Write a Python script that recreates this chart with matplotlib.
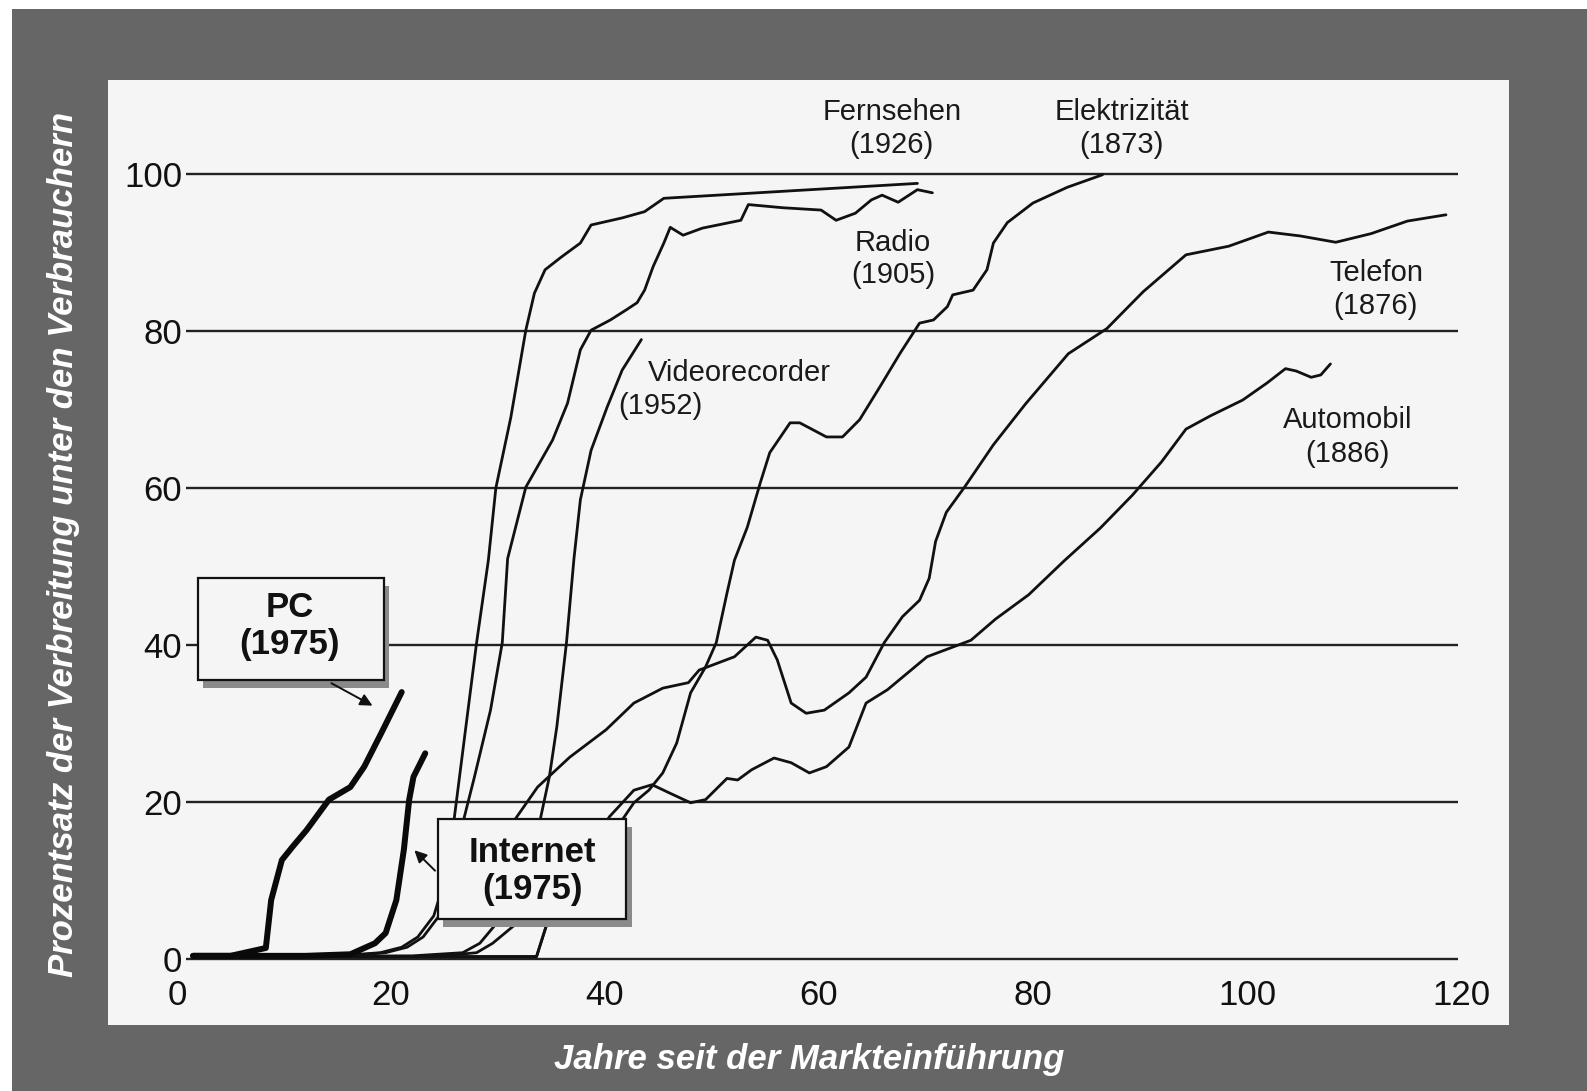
import matplotlib.pyplot as plt
from matplotlib.patches import Rectangle

plt.rcParams['font.family'] = ['Liberation Sans', 'DejaVu Sans']

# Daten (Jahre seit Markteinführung, Prozent der Verbraucher)
pc_x = [1.5, 5, 8.3, 8.8, 9.8, 10.8, 12.1, 14.2, 16.2, 17.5, 19.1, 21.0]
pc_y = [0.4, 0.4, 1.4, 7.5, 12.6, 14.3, 16.4, 20.3, 21.9, 24.5, 28.8, 34.0]

internet_x = [1.5, 12, 16.2, 18.5, 19.5, 20.5, 21.2, 21.7, 22.1, 23.2]
internet_y = [0.4, 0.4, 0.6, 2.0, 3.3, 7.5, 13.9, 20.3, 23.2, 26.2]

tv_x = [1.5, 15, 19, 21, 22.5, 24, 25, 25.9, 27.0, 28.0, 29.1, 29.8, 31.2, 32.6,
        33.4, 34.4, 35.9, 37.7, 38.7, 41.6, 43.7, 45.5, 69.2]
tv_y = [0.3, 0.4, 0.8, 1.5, 2.8, 5.5, 10, 17.8, 29.6, 40.3, 50.8, 60.0, 69.0, 80.1,
        84.8, 87.8, 89.4, 91.2, 93.5, 94.4, 95.2, 96.9, 98.8]

radio_x = [1.5, 16, 19.5, 21.5, 23, 24.5, 25.8, 26.8, 27.8, 29.3, 30.4, 30.9, 32.6,
           35.1, 36.5, 37.7, 38.7, 40.5, 42.0, 43.0, 43.7, 44.5, 45.5, 46.1, 47.3,
           49.1, 52.7, 53.4, 56.6, 60.2, 61.6, 63.4, 64.9, 65.9, 67.4, 69.2, 70.6]
radio_y = [0.3, 0.4, 0.8, 1.5, 2.8, 5.5, 10, 17.8, 23.2, 31.7, 40.3, 51.0, 60.1,
           66.1, 70.8, 77.6, 80.1, 81.4, 82.7, 83.6, 85.2, 88.2, 91.2, 93.2, 92.2,
           93.1, 94.1, 96.1, 95.7, 95.4, 94.1, 95.0, 96.7, 97.3, 96.4, 98.0, 97.6]

vcr_x = [1.5, 24, 28.0, 29.5, 31.8, 34.0, 34.8, 35.5, 36.4, 37.1, 37.7, 38.7, 40.2, 41.6, 43.4]
vcr_y = [0.3, 0.3, 0.8, 2.0, 4.6, 18.1, 23.2, 29.6, 40.3, 51.0, 58.5, 64.8, 70.3, 75.0, 78.9]

tel_x = [1.5, 22, 26.7, 28.3, 29.9, 31.6, 33.7, 36.7, 40.1, 42.7, 45.4, 47.8, 48.8,
         52.1, 54.1, 55.2, 56.1, 57.4, 58.8, 60.5, 62.8, 64.4, 66.1, 67.8, 69.4,
         70.3, 70.9, 71.9, 73.6, 76.3, 79.3, 83.3, 86.9, 90.3, 94.3, 98.3, 102,
         105, 108.3, 111.6, 115, 118.6]
tel_y = [0.3, 0.4, 0.8, 2.0, 4.6, 17.8, 21.9, 25.7, 29.2, 32.6, 34.5, 35.2, 36.8,
         38.5, 41.0, 40.6, 38.1, 32.6, 31.3, 31.7, 33.9, 35.9, 40.3, 43.6, 45.7,
         48.5, 53.2, 56.9, 60.1, 65.5, 70.7, 77.1, 80.3, 85.0, 89.7, 90.8, 92.6,
         92.1, 91.3, 92.4, 94.0, 94.8]

elek_x = [1.5, 28, 33.6, 34.6, 41.8, 42.7, 44.1, 45.4, 46.7, 48.0, 49.4, 50.4, 51.4,
          52.1, 53.3, 54.5, 55.4, 57.3, 58.2, 60.7, 62.2, 63.8, 65.7, 67.6, 69.4,
          70.7, 72.0, 72.5, 74.4, 75.7, 76.3, 77.6, 80.0, 83.2, 86.5]
elek_y = [0.3, 0.3, 0.3, 4.6, 18.1, 19.9, 21.5, 23.7, 27.5, 33.9, 37.2, 40.3, 46.6,
          50.8, 55.0, 60.6, 64.5, 68.3, 68.3, 66.5, 66.5, 68.7, 72.9, 77.2, 81.0,
          81.4, 83.1, 84.6, 85.2, 87.8, 91.2, 93.8, 96.3, 98.3, 99.9]

auto_x = [1.5, 28, 33.6, 34.6, 40.4, 42.7, 44.4, 46.1, 48.0, 49.4, 51.4, 52.4, 53.7,
          55.8, 57.4, 59.1, 60.7, 62.8, 64.4, 66.4, 70.1, 74.2, 76.5, 79.6, 82.9,
          86.3, 89.3, 92.0, 94.3, 96.6, 99.6, 101.9, 103.6, 104.6, 106.0, 106.9, 107.8]
auto_y = [0.3, 0.3, 0.3, 4.6, 18.1, 21.5, 22.2, 21.1, 19.9, 20.3, 23.0, 22.8, 24.1,
          25.6, 25.0, 23.7, 24.5, 27.0, 32.6, 34.3, 38.5, 40.6, 43.3, 46.4, 50.7,
          54.9, 59.1, 63.3, 67.5, 69.2, 71.2, 73.4, 75.2, 74.9, 74.1, 74.4, 75.8]

y_ticks = [0, 20, 40, 60, 80, 100]
x_ticks = [0, 20, 40, 60, 80, 100, 120]

fig = plt.figure(figsize=(15.87, 10.91), dpi=100, facecolor='white')
fig.patches.append(Rectangle((12 / 1587, 0), 1, 1 - 9 / 1091, transform=fig.transFigure,
                             facecolor='#666666', edgecolor='none', zorder=-10))

ax = fig.add_axes([108 / 1587, 1 - 1025 / 1091, 1401 / 1587, 945 / 1091])
ax.set_facecolor('#f5f5f5')
ax.set_xlim(-6.45, 124.49)
ax.set_ylim(-8.41, 111.97)
for s in ax.spines.values():
    s.set_visible(False)

ax.hlines(y_ticks, 0.8, 119.7, color='#222222', lw=1.7, zorder=1)

ax.set_xticks(x_ticks)
ax.set_yticks(y_ticks)
ax.tick_params(axis='x', length=0, pad=-33, labelsize=25, labelcolor='#111111')
ax.tick_params(axis='y', length=0, pad=-53.5, labelsize=25, labelcolor='#111111')

thin = dict(color='#111111', lw=2.0, solid_joinstyle='round', solid_capstyle='round', zorder=2)
for xs, ys in [(tv_x, tv_y), (radio_x, radio_y), (vcr_x, vcr_y), (tel_x, tel_y),
               (elek_x, elek_y), (auto_x, auto_y)]:
    ax.plot(xs, ys, **thin)
thick = dict(color='#0a0a0a', lw=4.3, solid_joinstyle='round', solid_capstyle='round', zorder=3)
ax.plot(pc_x, pc_y, **thick)
ax.plot(internet_x, internet_y, **thick)

# Beschriftungen der Kurven
lab = dict(fontsize=21, ha='center', va='center', color='#1a1a1a')
ax.text(66.8, 107.9, 'Fernsehen', **lab)
ax.text(66.8, 103.7, '(1926)', **lab)
ax.text(88.3, 107.9, 'Elektrizität', **lab)
ax.text(88.3, 103.7, '(1873)', **lab)
ax.text(66.9, 91.2, 'Radio', **lab)
ax.text(66.9, 87.1, '(1905)', **lab)
ax.text(52.6, 74.6, 'Videorecorder', **lab)
ax.text(45.2, 70.4, '(1952)', **lab)
ax.text(112.1, 87.4, 'Telefon', **lab)
ax.text(112.0, 83.2, '(1876)', **lab)
ax.text(109.4, 68.7, 'Automobil', **lab)
ax.text(109.4, 64.3, '(1886)', **lab)

# Kästen für PC und Internet
def box(x0, y0, x1, y1):
    ax.add_patch(Rectangle((x0 + 0.5, y0 - 1.0), x1 - x0, y1 - y0, facecolor='#8a8a8a',
                           edgecolor='none', zorder=4))
    ax.add_patch(Rectangle((x0, y0), x1 - x0, y1 - y0, facecolor='#f5f5f5',
                           edgecolor='#111111', lw=1.6, zorder=5))

box(1.96, 35.5, 19.35, 48.5)
box(24.4, 5.1, 42.0, 17.8)
bold = dict(fontsize=25, fontweight='bold', ha='center', va='center', color='#111111', zorder=6)
ax.text(10.5, 44.8, 'PC', **bold)
ax.text(10.5, 40.0, '(1975)', **bold)
ax.text(33.2, 13.6, 'Internet', **bold)
ax.text(33.2, 8.8, '(1975)', **bold)

arrow = dict(arrowstyle='-|>', color='#111111', lw=1.4, mutation_scale=18)
ax.annotate('', xy=(18.5, 32.1), xytext=(14.2, 35.3), arrowprops=arrow, zorder=6)
ax.annotate('', xy=(22.0, 14.1), xytext=(24.3, 11.0), arrowprops=arrow, zorder=6)

fig.text(0.0403, 0.5014, 'Prozentsatz der Verbreitung unter den Verbrauchern', rotation=90,
         ha='center', va='center', color='white', fontsize=25, fontweight='bold', style='italic')
fig.text(0.5098, 0.0293, 'Jahre seit der Markteinführung', ha='center', va='center',
         color='white', fontsize=25, fontweight='bold', style='italic')

fig.savefig('out.png', dpi=100, facecolor=fig.get_facecolor())
